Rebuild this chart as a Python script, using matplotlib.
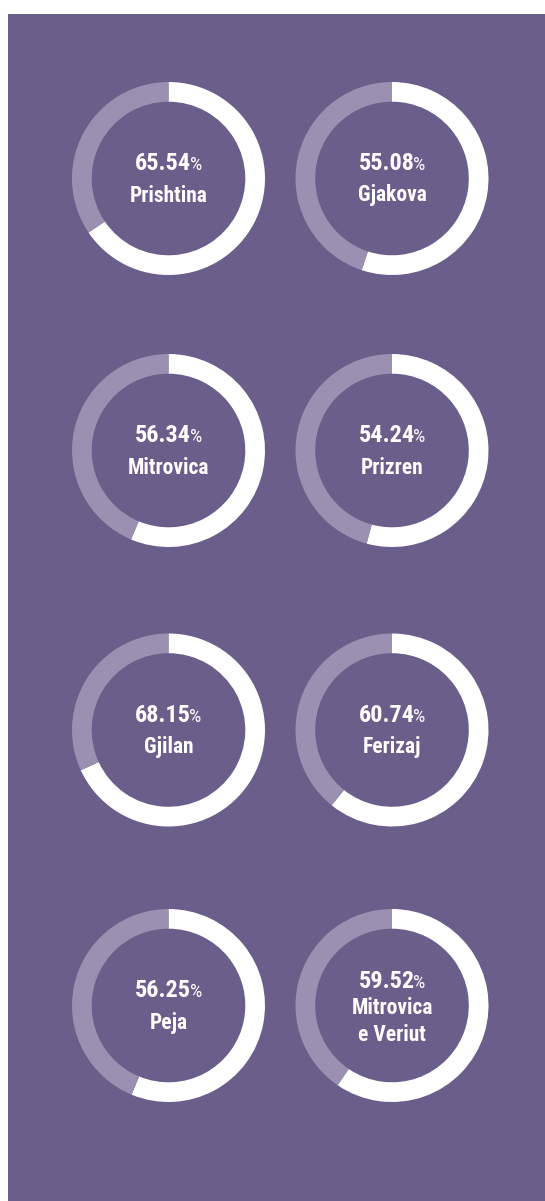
import os
import matplotlib
matplotlib.use("Agg")
import matplotlib.pyplot as plt
from matplotlib.patches import Rectangle
from matplotlib import font_manager
from matplotlib.font_manager import FontProperties

# ---- data ----
cities = ["Prishtina", "Gjakova", "Mitrovica", "Prizren",
          "Gjilan", "Ferizaj", "Peja", "Mitrovica\ne Veriut"]
values = [65.54, 55.08, 56.34, 54.24, 68.15, 60.74, 56.25, 59.52]

# ---- style ----
BG = "#6A5E8A"
LIGHT = "#9A91B2"
W, H = 545, 1201


def pick_font(patterns, size, weight):
    files = {os.path.basename(f.fname).lower(): f.fname
             for f in font_manager.fontManager.ttflist}
    for p in patterns:
        for k, v in files.items():
            if k == p or k.startswith(p):
                return FontProperties(fname=v, size=size)
    return FontProperties(family="DejaVu Sans", size=size, weight=weight,
                          stretch="condensed")


BOLD_PAT = ["liberationsansnarrow-bold.ttf", "robotocondensed-bold.ttf",
            "opensans-condbold", "opensans_condensed-bold", "dejavusanscondensed-bold.ttf"]
REG_PAT = ["liberationsansnarrow-regular.ttf", "robotocondensed-regular.ttf",
           "opensans-condlight", "dejavusanscondensed.ttf"]

fp_num = pick_font(BOLD_PAT, 17.5, "bold")
fp_pct = pick_font(REG_PAT, 14, "normal")
fp_name = pick_font(BOLD_PAT, 15.5, "bold")

fig = plt.figure(figsize=(W / 100, H / 100), dpi=100)
fig.patch.set_facecolor("white")
ax = fig.add_axes([0, 0, 1, 1])

col_x = [168.5, 392.0]
row_y = [178.5, 450.5, 730.0, 1005.5]
R = 96.5
RW = 19.7

ax.add_patch(Rectangle((8, 0), W - 8, H - 14, facecolor=BG, edgecolor="none", zorder=0))

centers = []
for i, (name, v) in enumerate(zip(cities, values)):
    cx = col_x[i % 2]
    cy = H - row_y[i // 2]
    centers.append((cx, cy))
    ax.pie([v, 100 - v], colors=["white", LIGHT], startangle=90, counterclock=False,
           radius=R, center=(cx, cy), wedgeprops=dict(width=RW, linewidth=0),
           normalize=True)

ax.set_xlim(0, W)
ax.set_ylim(0, H)
ax.set_aspect("auto")
ax.axis("off")

fig.canvas.draw()
renderer = fig.canvas.get_renderer()

for (cx, cy), name, v in zip(centers, cities, values):
    lines = name.split("\n")
    if len(lines) == 1:
        num_y = cy + 17
        name_ys = [cy - 17]
    else:
        num_y = cy + 25.5
        name_ys = [cy - 2.5, cy - 29.5]
    base = num_y - 8.5
    t_num = ax.text(0, base, f"{v:.2f}", color="white", fontproperties=fp_num,
                    ha="left", va="baseline")
    t_pct = ax.text(0, base, "%", color="white", fontproperties=fp_pct,
                    ha="left", va="baseline")
    wn = t_num.get_window_extent(renderer).width
    wp = t_pct.get_window_extent(renderer).width
    gap = -1.5
    x0 = cx - (wn + wp + gap) / 2
    t_num.set_x(x0)
    t_pct.set_x(x0 + wn + gap)
    for ln, ly in zip(lines, name_ys):
        ax.text(cx, ly, ln, color="white", fontproperties=fp_name,
                ha="center", va="center")

fig.savefig("out.png", dpi=100, facecolor=fig.get_facecolor())
